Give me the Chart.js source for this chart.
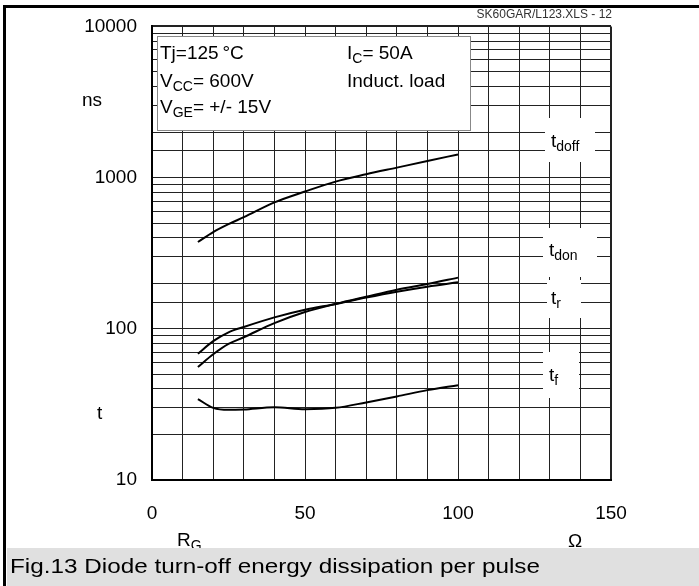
<!DOCTYPE html>
<html>
<head>
<meta charset="utf-8">
<script src="https://cdn.jsdelivr.net/npm/chart.js@4/dist/chart.umd.min.js"></script>
<style>
body{margin:0;background:#fff}
canvas{display:block}
</style>
</head>
<body>
<canvas id="c" width="699" height="586"></canvas>
<script>
const rg = [15,20,25,30,40,50,60,70,80,90,100]
const tdoff = [375,436,492,547,686,809,941,1052,1164,1288,1422]
const tdon = [68.4,82.8,94.8,102.8,119,133.6,146,161,176,190,203]
const tr = [55.9,67.8,79.4,87.9,109,129,146,163,181.5,198,218]
const tf = [34.3,30.0,29.1,29.3,30.3,29.4,30.0,32.6,35.7,39.3,42.4]
const yLabels = [10,100,1000,10000]
const xLabels = [0,50,100,150]

const FONT = "'Liberation Sans', Arial, sans-serif"

function pts(v){
return rg.map((r,i)=>({x:r,y:v[i]}))
}

function serie(v){
return {data:pts(v),borderColor:"#000",borderWidth:2,pointRadius:0,fill:false,cubicInterpolationMode:"monotone"}
}

// texto com subscrito
function sub(ctx,x,y,a,s,b,size){
ctx.font = size+"px "+FONT
ctx.fillText(a,x,y)
x += ctx.measureText(a).width
ctx.font = Math.round(size*0.72)+"px "+FONT
ctx.fillText(s,x,y+4)
x += ctx.measureText(s).width
if(b){
ctx.font = size+"px "+FONT
ctx.fillText(b,x,y)
}
}

// texto esticado ate uma largura
function wide(ctx,txt,x,y,w){
const m = ctx.measureText(txt).width
ctx.save()
ctx.translate(x,y)
ctx.scale(w/m,1)
ctx.fillText(txt,0,0)
ctx.restore()
}

const extras = {
id:"extras",
afterDraw(chart){
const ctx = chart.ctx
ctx.save()
ctx.fillStyle = "#000"
ctx.textBaseline = "alphabetic"
ctx.textAlign = "left"

// caixa de condicoes
ctx.fillStyle = "#fff"
ctx.fillRect(157,36,314,95)
ctx.strokeStyle = "#888"
ctx.lineWidth = 1
ctx.strokeRect(157.5,36.5,313,94)
ctx.fillStyle = "#000"
ctx.font = "19px "+FONT
ctx.fillText("Tj=125\u2009\u00B0C",160,59)
sub(ctx,160,87,"V","CC","= 600V",19)
sub(ctx,160,113,"V","GE","= +/- 15V",19)
sub(ctx,347,59,"I","C","= 50A",19)
ctx.font = "19px "+FONT
ctx.fillText("Induct. load",347,87)

// rotulos das curvas
ctx.fillStyle = "#fff"
ctx.fillRect(545,118,50,44)
ctx.fillRect(543,228,54,49)
ctx.fillRect(547,280,34,38)
ctx.fillRect(543,352,36,46)
ctx.fillStyle = "#000"
sub(ctx,551,147,"t","doff","",19)
sub(ctx,549,256,"t","don","",19)
sub(ctx,551,304,"t","r","",19)
sub(ctx,549,381,"t","f","",19)

// titulos dos eixos
ctx.font = "19px "+FONT
ctx.fillText("ns",82,106)
ctx.fillText("t",97,419)
sub(ctx,177,546,"R","G","",19)
ctx.font = "19px "+FONT
ctx.fillText("\u03A9",568,547)

ctx.font = "12px "+FONT
ctx.fillStyle = "#333"
ctx.textAlign = "right"
ctx.fillText("SK60GAR/L123.XLS - 12",612,18)

// legenda inferior
ctx.fillStyle = "#e0e0e0"
ctx.fillRect(7,548,692,38)
ctx.fillStyle = "#000"
ctx.textAlign = "left"
ctx.font = "20px "+FONT
wide(ctx,"Fig.13 Diode turn-off energy dissipation per pulse",10,573,530)

// moldura
ctx.fillStyle = "#000"
ctx.fillRect(3,5,696,3)
ctx.fillRect(3,5,3,581)
ctx.restore()
}
}

new Chart(document.getElementById("c"),{
type:"line",
data:{datasets:[serie(tdoff),serie(tdon),serie(tr),serie(tf)]},
options:{
responsive:false,
animation:false,
devicePixelRatio:1,
layout:{padding:{top:22,right:88,left:0,bottom:0}},
plugins:{legend:{display:false},tooltip:{enabled:false}},
scales:{
x:{
type:"linear",min:0,max:150,
afterFit(s){s.height=106},
grid:{color:"#222",drawTicks:false,lineWidth:c=>c.tick && c.tick.value===150?2:1},
border:{display:true,color:"#000",width:2},
ticks:{stepSize:10,autoSkip:false,maxRotation:0,padding:22,color:"#000",font:{family:FONT,size:19},
callback:v=>xLabels.includes(v)?v:""}
},
y:{
type:"logarithmic",min:10,max:10000,
afterFit(s){s.width=152},
grid:{color:"#222",drawTicks:false,lineWidth:c=>c.tick && c.tick.value===10000?2:1},
border:{display:true,color:"#000",width:2},
ticks:{autoSkip:false,padding:15,color:"#000",font:{family:FONT,size:19},
callback:v=>yLabels.includes(v)?v:""}
}
}
},
plugins:[extras]
})
</script>
</body>
</html>
